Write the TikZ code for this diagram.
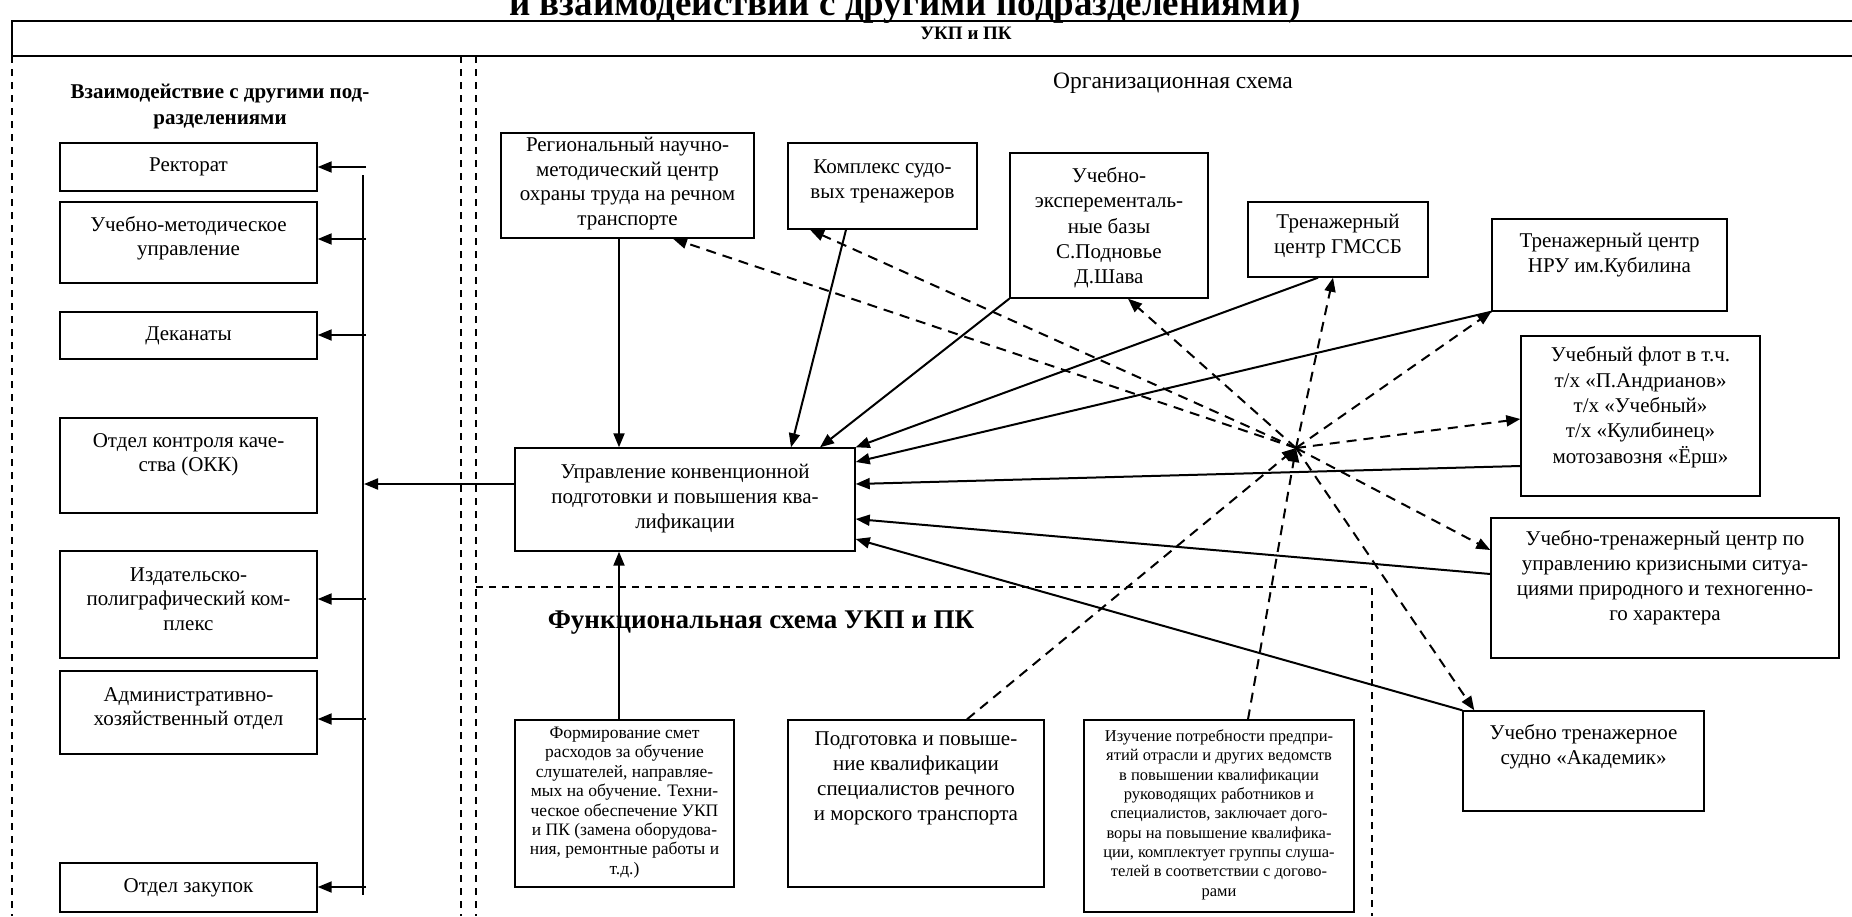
\documentclass[tikz,border=0pt]{standalone}
\usepackage{fontspec}
\setmainfont{Liberation Serif}
\usetikzlibrary{arrows.meta}
\newcommand{\liftt}[2]{\raisebox{#1}[\height][\depth]{\begin{tabular}{@{}c@{}}#2\end{tabular}}}
\begin{document}
\begin{tikzpicture}[x=1pt,y=-1pt,
  box/.style={draw, line width=1.4pt, inner sep=0pt, align=center, font=\fontsize{21}{24.8}\selectfont},
  conn/.style={line width=2pt, -{Triangle[length=14pt,width=11pt]}},
  dconn/.style={line width=2pt, dash pattern=on 10pt off 7pt, -{Triangle[length=14pt,width=11pt]}},
  sect/.style={line width=1.3pt, dash pattern=on 7pt off 6pt},
  bus/.style={line width=2pt}]

\fill[white] (0,0) rectangle (1852,916);
\useasboundingbox (0,0) rectangle (1852,916);

% title (cut by the page edge) and top box
\node[font=\fontsize{37}{40}\selectfont\bfseries, anchor=base, inner sep=0pt] (title) at (905,15) {и взаимодействий с другими подразделениями)};
\node[draw, line width=1.4pt, minimum width=1900pt, minimum height=35pt, inner sep=0pt] (ukpbox) at (962,38.5) {};
\node[font=\fontsize{19}{22}\selectfont\bfseries, inner sep=0pt] (ukp) at (966,33) {УКП и ПК};

% section frames
\draw[sect] (12,56) -- (12,916);
\draw[sect] (461,56) -- (461,916);
\draw[sect] (476,56) -- (476,916);
\draw[sect] (476,587) -- (1372,587) -- (1372,916);

% left column
\node[font=\fontsize{21}{26.5}\selectfont\bfseries, align=center] (hdr) at (220,106.5) {Взаимодействие с другими под-\\разделениями};
\node[box, minimum width=257pt, minimum height=48pt] (rek) at (188.5,167) {Ректорат};
\node[box, minimum width=257pt, minimum height=81pt] (umu) at (188.5,242.5) {\liftt{4pt}{Учебно-методическое\\управление}};
\node[box, minimum width=257pt, minimum height=47pt] (dek) at (188.5,335.5) {Деканаты};
\node[box, minimum width=257pt, minimum height=95pt] (okk) at (188.5,465.5) {\liftt{11pt}{Отдел контроля каче-\\ства (ОКК)}};
\node[box, minimum width=257pt, minimum height=107pt] (izd) at (188.5,604.5) {\liftt{3.5pt}{Издательско-\\полиграфический ком-\\плекс}};
\node[box, minimum width=257pt, minimum height=83pt] (axo) at (188.5,712.5) {\liftt{4pt}{Административно-\\хозяйственный отдел}};
\node[box, minimum width=257pt, minimum height=49pt] (zak) at (188.5,887.5) {Отдел закупок};

\coordinate (bt) at (363,175);
\coordinate (bb) at (363,895);
\draw[bus] (bt) -- (bb);
\coordinate (t1) at (366,167);
\coordinate (t2) at (366,239);
\coordinate (t3) at (366,335);
\coordinate (t4) at (366,599);
\coordinate (t5) at (366,719);
\coordinate (t6) at (366,887);
\draw[conn] (t1) -- (t1 -| rek.east);
\draw[conn] (t2) -- (t2 -| umu.east);
\draw[conn] (t3) -- (t3 -| dek.east);
\draw[conn] (t4) -- (t4 -| izd.east);
\draw[conn] (t5) -- (t5 -| axo.east);
\draw[conn] (t6) -- (t6 -| zak.east);

% organisational scheme
\node[font=\fontsize{23.5}{26}\selectfont] (org) at (1173,83) {Организационная схема};
\node[box, minimum width=340pt, minimum height=103pt] (main) at (685,499.5) {\liftt{1pt}{Управление конвенционной\\подготовки и повышения ква-\\лификации}};
\coordinate (bm) at (364,484);
\draw[conn] (main.west |- bm) -- (bm);

\node[box, minimum width=253pt, minimum height=105pt] (reg) at (627.5,185.5) {\liftt{2pt}{Региональный научно-\\методический центр\\охраны труда на речном\\транспорте}};
\node[box, minimum width=189pt, minimum height=86pt] (kom) at (882.5,186) {\liftt{5pt}{Комплекс судо-\\вых тренажеров}};
\node[box, minimum width=198pt, minimum height=145pt, font=\fontsize{21}{25.4}\selectfont] (ueb) at (1109,225.5) {\liftt{-2.5pt}{Учебно-\\эксперементаль-\\ные базы\\С.Подновье\\Д.Шава}};
\node[box, minimum width=180pt, minimum height=75pt] (gmssb) at (1338,239.5) {\liftt{3.5pt}{Тренажерный\\центр ГМССБ}};
\node[box, minimum width=235pt, minimum height=92pt] (nru) at (1609.5,265) {\liftt{10pt}{Тренажерный центр\\НРУ им.Кубилина}};
\node[box, minimum width=239pt, minimum height=160pt, font=\fontsize{21}{25.4}\selectfont] (flot) at (1640.5,416) {\liftt{8.5pt}{Учебный флот в т.ч.\\т/х «П.Андрианов»\\т/х «Учебный»\\т/х «Кулибинец»\\мотозавозня «Ёрш»}};
\node[box, minimum width=348pt, minimum height=140pt, font=\fontsize{21}{25}\selectfont] (utc) at (1665,588) {\liftt{10.5pt}{Учебно-тренажерный центр по\\управлению кризисными ситуа-\\циями природного и техногенно-\\го характера}};
\node[box, minimum width=241pt, minimum height=100pt] (akad) at (1583.5,761) {\liftt{14pt}{Учебно тренажерное\\судно «Академик»}};

% functional scheme
\node[font=\fontsize{27}{30}\selectfont\bfseries] (func) at (761,623) {Функциональная схема УКП и ПК};
\node[box, minimum width=219pt, minimum height=167pt, font=\fontsize{17.5}{19.4}\selectfont] (form) at (624.5,803.5) {\liftt{1pt}{Формирование смет\\расходов за обучение\\слушателей, направляе-\\мых на обучение. Техни-\\ческое обеспечение УКП\\и ПК (замена оборудова-\\ния, ремонтные работы и\\т.д.)}};
\node[box, minimum width=256pt, minimum height=167pt] (podg) at (916,803.5) {\liftt{25.5pt}{Подготовка и повыше-\\ние квалификации\\специалистов речного\\и морского транспорта}};
\node[box, minimum width=270pt, minimum height=192pt, font=\fontsize{16.5}{19.3}\selectfont] (izuch) at (1219,816) {\liftt{1pt}{Изучение потребности предпри-\\ятий отрасли и других ведомств\\в повышении квалификации\\руководящих работников и\\специалистов, заключает дого-\\воры на повышение квалифика-\\ции, комплектует группы слуша-\\телей в соответствии с догово-\\рами}};

% solid connectors into the main box
\draw[conn] ([xshift=-8.5pt]reg.south) -- ([xshift=-66pt]main.north);
\draw[conn] ([xshift=-36.5pt]kom.south) -- ([xshift=106pt]main.north);
\draw[conn] (ueb.south west) -- ([xshift=135pt]main.north);
\draw[conn] ([xshift=-20pt]gmssb.south) -- (main.north east);
\draw[conn] (nru.south west) -- ([yshift=37.5pt]main.east);
\draw[conn] ([yshift=-50pt]flot.west) -- ([yshift=15.5pt]main.east);
\draw[conn] ([yshift=14pt]utc.west) -- ([yshift=-19.5pt]main.east);
\draw[conn] (akad.north west) -- ([yshift=-39.5pt]main.east);
\draw[conn] ([xshift=-5.5pt]form.north) -- ([xshift=-66pt]main.south);

% dashed star
\coordinate (hub) at (1296,448);
\draw[dconn] (hub) -- ([xshift=45.5pt]reg.south);
\draw[dconn] (hub) -- ([xshift=-72.5pt]kom.south);
\draw[dconn] (hub) -- ([xshift=19pt]ueb.south);
\draw[dconn] (hub) -- ([xshift=-5pt]gmssb.south);
\draw[dconn] (hub) -- (nru.south west);
\draw[dconn] (hub) -- ([yshift=-3pt]flot.west);
\draw[dconn] (hub) -- ([yshift=38pt]utc.west);
\draw[dconn] (hub) -- ([xshift=12pt]akad.north west);
\draw[dconn] ([xshift=51pt]podg.north) -- (hub);
\draw[dconn] ([xshift=29pt]izuch.north) -- (hub);
\end{tikzpicture}
\end{document}
